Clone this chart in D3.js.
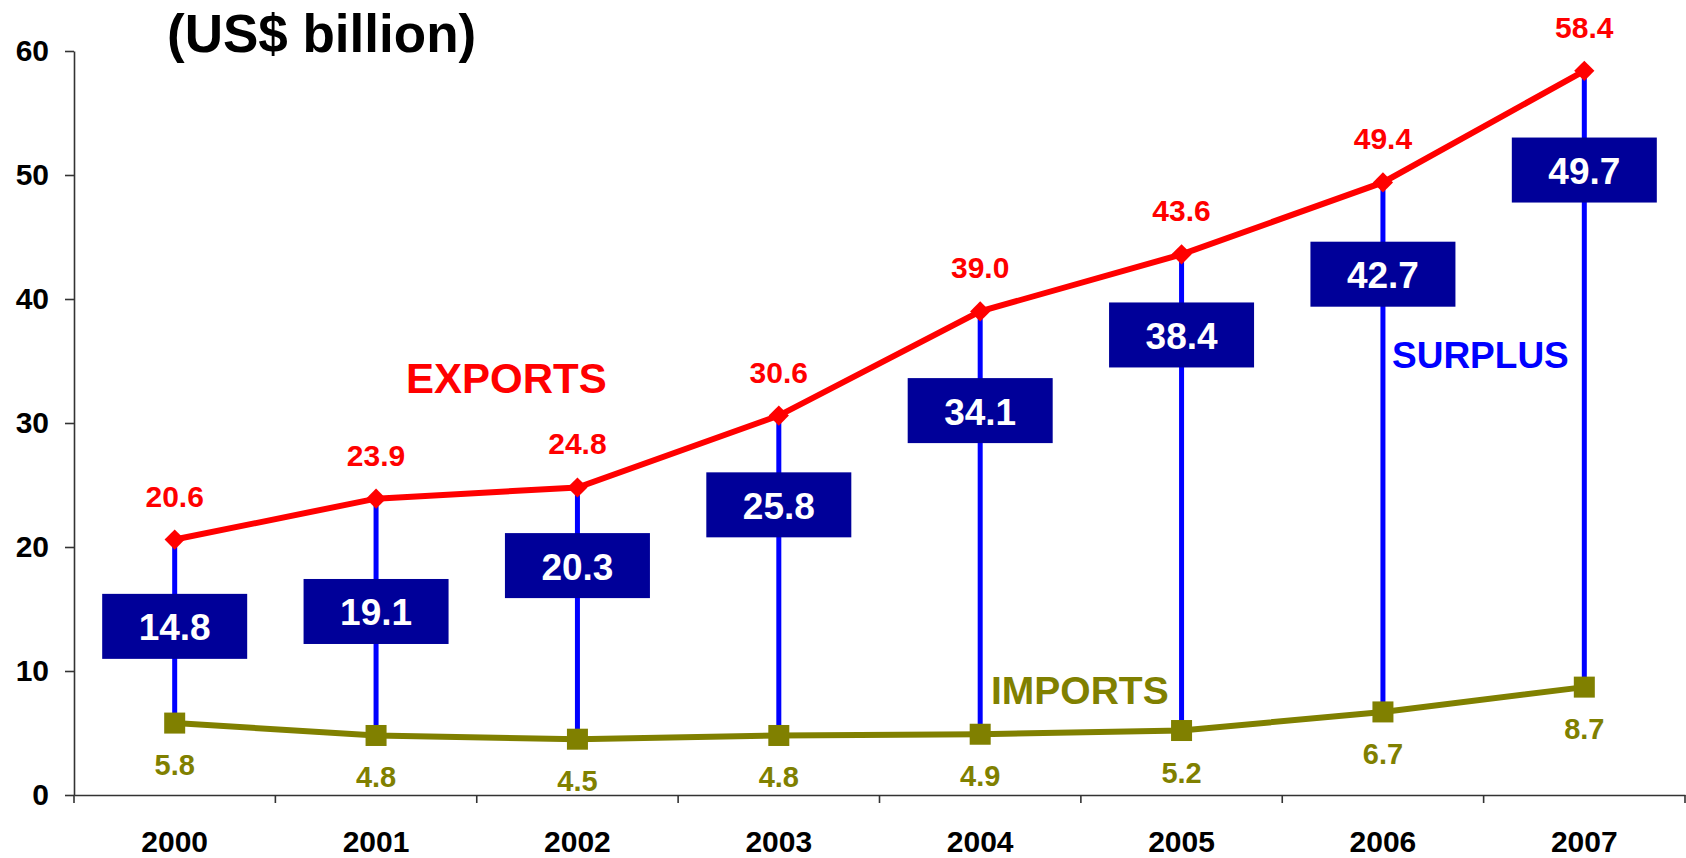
<!DOCTYPE html>
<html>
<head>
<meta charset="utf-8">
<script src="https://cdn.jsdelivr.net/npm/d3@7"></script>
<style>
  body { margin: 0; background: #fff; }
  text { font-family: "Liberation Sans", Arial, sans-serif; font-weight: bold; }
</style>
</head>
<body>
<div id="chart"></div>
<script>
(function(){

// values
var years   = ["2000", "2001", "2002", "2003", "2004", "2005", "2006", "2007"];
var exports = [20.6, 23.9, 24.8, 30.6, 39.0, 43.6, 49.4, 58.4];
var imports = [5.8, 4.8, 4.5, 4.8, 4.9, 5.2, 6.7, 8.7];
var surplus = [14.8, 19.1, 20.3, 25.8, 34.1, 38.4, 42.7, 49.7];
// where the surplus boxes sit (in US$ billion on the y scale)
var surplusBoxAt = [13.6, 14.8, 18.5, 23.4, 31.0, 37.1, 42.0, 50.4];
var yTicks = [0, 10, 20, 30, 40, 50, 60];

var width = 1686,
    height = 858;

var svg = d3.select("#chart")
  .append("svg")
  .attr("width", width)
  .attr("height", height);

var x = d3.scaleBand()
    .domain(years)
    .range([74, 1685]);

var y = d3.scaleLinear()
    .domain([0, 60])
    .range([795, 51]);

function cx(i) { return x(years[i]) + x.bandwidth() / 2; }

var data = years.map(function(yr, i) {
  return {year: yr, exp: exports[i], imp: imports[i], sur: surplus[i], box: surplusBoxAt[i]};
});

// axes
var yAxis = svg.append("g")
    .attr("transform", "translate(" + x.range()[0] + ",0)")
    .call(d3.axisLeft(y).tickValues(yTicks).tickSize(9).tickSizeOuter(0).tickPadding(16));

var xAxis = svg.append("g")
    .attr("transform", "translate(0," + y(0) + ")")
    .call(d3.axisBottom(x).tickSize(0).tickPadding(36));

xAxis.selectAll(".tick line").remove();

// boundary ticks between the years
xAxis.selectAll(".bound")
  .data(years.concat(["end"]))
  .enter().append("line")
    .attr("class", "bound")
    .attr("x1", function(d) { return d === "end" ? x.range()[1] : x(d); })
    .attr("x2", function(d) { return d === "end" ? x.range()[1] : x(d); })
    .attr("y1", 0)
    .attr("y2", 8);

svg.selectAll(".domain, .tick line, .bound")
    .attr("stroke", "#333")
    .attr("stroke-width", 1.6);

svg.selectAll(".tick text")
    .attr("fill", "#000")
    .style("font-size", "30px")
    .style("font-weight", "bold");

// title
svg.append("text")
    .attr("x", 167)
    .attr("y", 52)
    .style("font-size", "53px")
    .attr("fill", "#000")
    .text("(US$ billion)");

// surplus drop lines
svg.selectAll(".drop")
  .data(data)
  .enter().append("line")
    .attr("class", "drop")
    .attr("x1", function(d, i) { return cx(i); })
    .attr("x2", function(d, i) { return cx(i); })
    .attr("y1", function(d) { return y(d.imp); })
    .attr("y2", function(d) { return y(d.exp); })
    .attr("stroke", "#0000ff")
    .attr("stroke-width", 5);

// imports line
var line = d3.line()
    .x(function(d, i) { return cx(i); });

svg.append("path")
    .datum(data)
    .attr("fill", "none")
    .attr("stroke", "#808000")
    .attr("stroke-width", 6)
    .attr("d", line.y(function(d) { return y(d.imp); }));

svg.selectAll(".impMark")
  .data(data)
  .enter().append("rect")
    .attr("x", function(d, i) { return cx(i) - 10.5; })
    .attr("y", function(d) { return y(d.imp) - 10.5; })
    .attr("width", 21)
    .attr("height", 21)
    .attr("fill", "#808000");

// exports line
svg.append("path")
    .datum(data)
    .attr("fill", "none")
    .attr("stroke", "#ff0000")
    .attr("stroke-width", 6)
    .attr("d", line.y(function(d) { return y(d.exp); }));

svg.selectAll(".expMark")
  .data(data)
  .enter().append("path")
    .attr("transform", function(d, i) { return "translate(" + cx(i) + "," + y(d.exp) + ")"; })
    .attr("d", d3.symbol().type(d3.symbolDiamond2).size(260))
    .attr("fill", "#ff0000");

// surplus boxes
var box = svg.selectAll(".box")
  .data(data)
  .enter().append("g")
    .attr("transform", function(d, i) { return "translate(" + cx(i) + "," + y(d.box) + ")"; });

box.append("rect")
    .attr("x", -72.5)
    .attr("y", -32.5)
    .attr("width", 145)
    .attr("height", 65)
    .attr("fill", "#000099");

box.append("text")
    .attr("text-anchor", "middle")
    .attr("y", 14)
    .attr("fill", "#fff")
    .style("font-size", "37px")
    .text(function(d) { return d.sur.toFixed(1); });

// value labels
svg.selectAll(".expLab")
  .data(data)
  .enter().append("text")
    .attr("text-anchor", "middle")
    .attr("x", function(d, i) { return cx(i); })
    .attr("y", function(d) { return y(d.exp) - 33; })
    .attr("fill", "#ff0000")
    .style("font-size", "30px")
    .text(function(d) { return d.exp.toFixed(1); });

svg.selectAll(".impLab")
  .data(data)
  .enter().append("text")
    .attr("text-anchor", "middle")
    .attr("x", function(d, i) { return cx(i); })
    .attr("y", function(d) { return y(d.imp) + 52; })
    .attr("fill", "#808000")
    .style("font-size", "29px")
    .text(function(d) { return d.imp.toFixed(1); });

// series names
svg.append("text")
    .attr("x", 406).attr("y", 393)
    .attr("fill", "#ff0000")
    .style("font-size", "42px")
    .text("EXPORTS");

svg.append("text")
    .attr("x", 991).attr("y", 704)
    .attr("fill", "#808000")
    .style("font-size", "39px")
    .text("IMPORTS");

svg.append("text")
    .attr("x", 1392).attr("y", 368)
    .attr("fill", "#0000ff")
    .style("font-size", "37px")
    .text("SURPLUS");

})();
</script>
</body>
</html>
